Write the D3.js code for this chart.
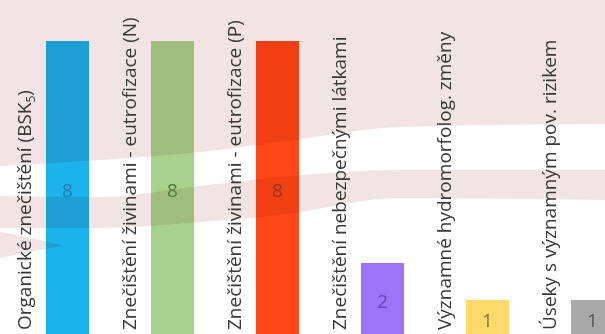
<!DOCTYPE html>
<html>
<head>
<meta charset="utf-8">
<script src="https://cdn.jsdelivr.net/npm/d3@7"></script>
<style>
  html, body { margin: 0; padding: 0; background: #ffffff; overflow: hidden; }
  svg { display: block; }
  .bar { mix-blend-mode: multiply; }
</style>
</head>
<body>
<svg id="chart" width="605" height="334"></svg>
<script>
// Categories of significant pressures and number of affected water bodies
const categories = [
  "Organické znečištění (BSK5)",
  "Znečištění živinami - eutrofizace (N)",
  "Znečištění živinami - eutrofizace (P)",
  "Znečištění nebezpečnými látkami",
  "Významné hydromorfolog. změny",
  "Úseky s významným pov. rizikem"
];
const values = [8, 8, 8, 2, 1, 1];
const barColors = ["#1cb2ee", "#a9d28d", "#ff4717", "#9d74f6", "#fbd96b", "#a9a9a9"];
const valueColors = ["#2a78ad", "#4d7a3a", "#9a3414", "#6446b4", "#8a7434", "#555555"];

const W = 605, H = 334;
const svg = d3.select("#chart");

// --- decorative swoosh background ---
const bg = svg.append("g");
bg.append("rect").attr("width", W).attr("height", H).attr("fill", "#ffffff");
const curve = d3.line().curve(d3.curveMonotoneX);
const pink = "#f2e4e4";

// upper pink area
const topEdge = [[0, 166], [100, 160], [200, 152], [280, 142], [400, 127], [605, 124]];
bg.append("path")
  .attr("d", "M0,0L605,0L" + curve(topEdge.slice().reverse()).slice(1) + "Z")
  .attr("fill", pink);

// middle pink band
const bandTop = [[0, 196], [100, 197], [200, 186], [280, 177], [400, 170], [605, 170]];
const bandBot = [[0, 228], [100, 228], [200, 222], [280, 215], [400, 198], [605, 200]];
bg.append("path")
  .attr("d", curve(bandTop) + "L" + curve(bandBot.slice().reverse()).slice(1) + "Z")
  .attr("fill", pink);

// small wedge at the left edge
bg.append("path")
  .attr("d", "M0,232 Q35,238 64,246 Q35,250 0,258 Z")
  .attr("fill", pink);

// --- scales ---
const x = d3.scaleBand()
  .domain(categories)
  .range([46, 614])
  .paddingInner(0.59)
  .paddingOuter(0);

const y = d3.scaleLinear()
  .domain([0, 8])
  .range([337, 41]);

const g = svg.append("g");

// bars
g.selectAll("rect.bar")
  .data(categories)
  .join("rect")
  .attr("class", "bar")
  .attr("x", d => x(d))
  .attr("y", (d, i) => y(values[i]))
  .attr("width", x.bandwidth())
  .attr("height", (d, i) => y(0) - y(values[i]))
  .attr("fill", (d, i) => barColors[i]);

// value labels in the middle of each bar
g.selectAll("text.val")
  .data(categories)
  .join("text")
  .attr("class", "val")
  .attr("x", d => x(d) + x.bandwidth() / 2)
  .attr("y", (d, i) => (y(values[i]) + y(0)) / 2 + 3)
  .attr("text-anchor", "middle")
  .attr("dominant-baseline", "middle")
  .attr("font-family", "'Open Sans', sans-serif")
  .attr("font-size", 19)
  .attr("fill", (d, i) => valueColors[i])
  .text((d, i) => values[i]);

// rotated category labels left of each bar
const labels = g.selectAll("text.cat")
  .data(categories)
  .join("text")
  .attr("class", "cat")
  .attr("transform", d => `translate(${x(d) - 15},330) rotate(-90)`)
  .attr("font-family", "'Open Sans', sans-serif")
  .attr("font-size", 19)
  .attr("fill", "#383838");

labels.each(function (d) {
  const t = d3.select(this);
  const m = d.match(/^(.*BSK)(5)(\))$/);
  if (m) {
    t.append("tspan").text(m[1]);
    t.append("tspan").attr("font-size", 12).attr("dy", 4).text(m[2]);
    t.append("tspan").attr("dy", -4).text(m[3]);
  } else {
    t.text(d);
  }
});
</script>
</body>
</html>
